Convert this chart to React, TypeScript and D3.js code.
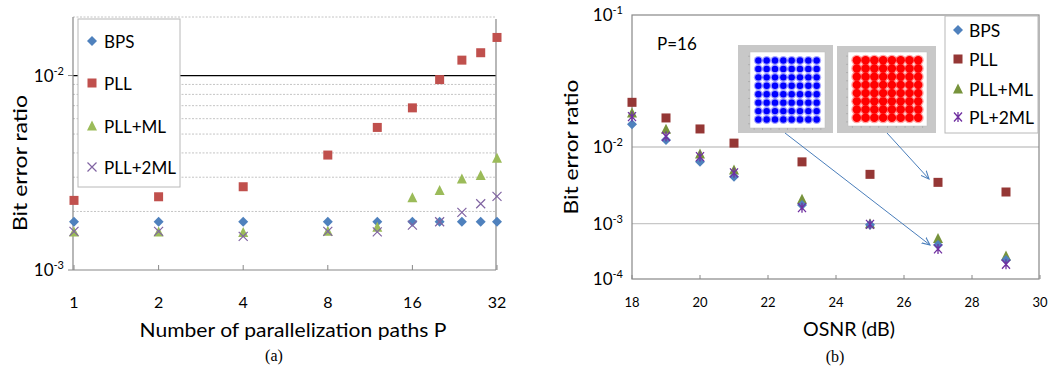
import React from "react";
import * as d3 from "d3";

// ---- data: panel (a)
const pathsA = [1, 2, 4, 8, 12, 16, 20, 24, 28, 32];
const bpsA = [1.77e-3, 1.77e-3, 1.77e-3, 1.77e-3, 1.77e-3, 1.77e-3, 1.77e-3, 1.77e-3, 1.77e-3, 1.77e-3];
const pllA = [2.28e-3, 2.38e-3, 2.68e-3, 3.9e-3, 5.41e-3, 6.82e-3, 9.53e-3, 1.2e-2, 1.31e-2, 1.57e-2];
const pllMlA = [1.57e-3, 1.57e-3, 1.56e-3, 1.58e-3, 1.66e-3, 2.35e-3, 2.56e-3, 2.94e-3, 3.06e-3, 3.76e-3];
const pll2MlA = [1.58e-3, 1.58e-3, 1.49e-3, 1.58e-3, 1.57e-3, 1.7e-3, 1.77e-3, 1.98e-3, 2.19e-3, 2.39e-3];
const xTicksA = [1, 2, 4, 8, 16, 32];
const minorGridA = [2e-3, 3e-3, 4e-3, 5e-3, 6e-3, 7e-3, 8e-3, 9e-3, 2e-2];

// ---- data: panel (b)
const osnrB = [18, 19, 20, 21, 23, 25, 27, 29];
const bpsB = [1.49e-2, 1.13e-2, 6.4e-3, 4.1e-3, 1.75e-3, 9.6e-4, 4.1e-4, 2.2e-4];
const pllB = [2.18e-2, 1.66e-2, 1.37e-2, 1.07e-2, 6.4e-3, 4.4e-3, 3.46e-3, 2.59e-3];
const pllMlB = [1.81e-2, 1.36e-2, 8.1e-3, 5.0e-3, 2.09e-3, 1.0e-3, 5.4e-4, 2.6e-4];
const pl2MlB = [1.7e-2, 1.2e-2, 7.5e-3, 4.6e-3, 1.62e-3, 9.7e-4, 3.5e-4, 1.85e-4];
const xTicksB = [18, 20, 22, 24, 26, 28, 30];
const decadesB = [1e-4, 1e-3, 1e-2, 1e-1];
const qamLevels = [-7, -5, -3, -1, 1, 3, 5, 7];

const FONT = "Lato, 'Open Sans', sans-serif";

type Kind = "diamond" | "square" | "triangle" | "x" | "star";

function Marker({ kind, x, y, color }: { kind: Kind; x: number; y: number; color: string }) {
  if (kind === "diamond")
    return <path d="M0,-5L5,0L0,5L-5,0Z" transform={`translate(${x},${y})`} fill={color} />;
  if (kind === "square")
    return <rect x={x - 4.5} y={y - 4.5} width={9} height={9} fill={color} />;
  if (kind === "triangle")
    return <path d="M0,-5.5L5,4.5L-5,4.5Z" transform={`translate(${x},${y})`} fill={color} />;
  if (kind === "x")
    return <path d="M-4.5,-4.5L4.5,4.5M-4.5,4.5L4.5,-4.5" transform={`translate(${x},${y})`} stroke={color} strokeWidth={1.2} fill="none" />;
  return <path d="M-4,-4.5L4,4.5M-4,4.5L4,-4.5M0,-5L0,5" transform={`translate(${x},${y})`} stroke={color} strokeWidth={1.3} fill="none" />;
}

function Pow({ x, y, exp, size, supSize }: { x: number; y: number; exp: string; size: number; supSize: number }) {
  return (
    <text x={x} y={y} textAnchor="end" fontSize={size} fontFamily={FONT} fill="#000">
      10<tspan fontSize={supSize} dy={-size * 0.4}>{exp}</tspan>
    </text>
  );
}

function PanelA() {
  const x = d3.scaleLog().base(2).domain([1, 32]).range([74, 497]);
  const y = d3.scaleLog().domain([1e-3, 2e-2]).range([270, 17]);
  const L = 73, R = 496, B = 270;
  const series: { name: string; vals: number[]; kind: Kind; color: string }[] = [
    { name: "BPS", vals: bpsA, kind: "diamond", color: "#4F81BD" },
    { name: "PLL", vals: pllA, kind: "square", color: "#C0504D" },
    { name: "PLL+ML", vals: pllMlA, kind: "triangle", color: "#9BBB59" },
    { name: "PLL+2ML", vals: pll2MlA, kind: "x", color: "#8064A2" },
  ];
  const legY = [41, 83, 126, 167];
  return (
    <g>
      {minorGridA.map((v) => (
        <line key={v} x1={L} x2={R} y1={y(v)} y2={y(v)} stroke="#c4c4c4" strokeDasharray="2,1.5" />
      ))}
      <line x1={L} x2={R} y1={y(1e-2)} y2={y(1e-2)} stroke="#000" strokeWidth={1.3} />
      <line x1={R} x2={R} y1={19} y2={B} stroke="#888" strokeWidth={1.2} />
      <line x1={L} x2={L} y1={y(2e-2)} y2={B} stroke="#888" strokeWidth={1.2} />
      <line x1={L} x2={R} y1={B} y2={B} stroke="#888" strokeWidth={1.2} />
      <line x1={L - 5} x2={L} y1={y(1e-2)} y2={y(1e-2)} stroke="#888" />
      <line x1={L - 5} x2={L} y1={B} y2={B} stroke="#888" />
      {xTicksA.map((t) => (
        <g key={t}>
          <line x1={x(t)} x2={x(t)} y1={B - 5} y2={B} stroke="#888" />
          <text x={x(t)} y={308} textAnchor="middle" fontSize={16} fontFamily={FONT}>{t}</text>
        </g>
      ))}
      <Pow x={64} y={82} exp="-2" size={17} supSize={11} />
      <Pow x={64} y={276} exp="-3" size={17} supSize={11} />
      {series.map((s) =>
        s.vals.map((v, i) => (
          <Marker key={s.name + i} kind={s.kind} x={x(pathsA[i])} y={y(v)} color={s.color} />
        ))
      )}
      <rect x={78} y={19} width={102} height={168} fill="#fff" stroke="#b8b8b8" />
      {series.map((s, i) => (
        <g key={s.name}>
          <Marker kind={s.kind} x={92} y={legY[i]} color={s.color} />
          <text x={104} y={legY[i]} dominantBaseline="central" fontSize={17} fontFamily={FONT}>{s.name}</text>
        </g>
      ))}
      <text transform="translate(27,163) rotate(-90)" textAnchor="middle" fontSize={20} fontFamily={FONT}
        textLength={136} lengthAdjust="spacingAndGlyphs">Bit error ratio</text>
      <text x={293} y={337} textAnchor="middle" fontSize={20} fontFamily={FONT}
        textLength={307} lengthAdjust="spacingAndGlyphs">Number of parallelization paths  P</text>
      <text x={274} y={361} textAnchor="middle" fontSize={16} fontFamily="'Liberation Serif', serif">(a)</text>
    </g>
  );
}

function Constellation({ x0, y0, w, h, ix0, iy0, iw, ih, color, r }: {
  x0: number; y0: number; w: number; h: number; ix0: number; iy0: number; iw: number; ih: number; color: string; r: number;
}) {
  const sx = d3.scaleLinear().domain([-9, 9]).range([ix0, ix0 + iw]);
  const sy = d3.scaleLinear().domain([-9, 9]).range([iy0 + ih, iy0]);
  const ticks = [-8, -6, -4, -2, 0, 2, 4, 6, 8];
  return (
    <g>
      <rect x={x0} y={y0} width={w} height={h} fill="#c8c8c8" />
      <rect x={ix0} y={iy0} width={iw} height={ih} fill="#fff" stroke="#bbb" strokeWidth={0.5} />
      {ticks.map((t) => (
        <g key={t}>
          <line x1={sx(t)} x2={sx(t)} y1={iy0 + ih} y2={iy0 + ih + 2} stroke="#999" strokeWidth={0.5} />
          <line x1={ix0 - 2} x2={ix0} y1={sy(t)} y2={sy(t)} stroke="#999" strokeWidth={0.5} />
        </g>
      ))}
      {qamLevels.map((a) =>
        qamLevels.map((b) => (
          <g key={`${a}_${b}`}>
            <circle cx={sx(a)} cy={sy(b)} r={r + 1.3} fill={color} opacity={0.35} />
            <circle cx={sx(a)} cy={sy(b)} r={r} fill={color} />
          </g>
        ))
      )}
    </g>
  );
}

function PanelB() {
  const x = d3.scaleLinear().domain([18, 30]).range([632, 1040]);
  const y = d3.scaleLog().domain(decadesB).range([279, 223.7, 147, 15]);
  const L = 632, R = 1039, T = 15, B = 279;
  const series: { name: string; vals: number[]; kind: Kind; color: string }[] = [
    { name: "BPS", vals: bpsB, kind: "diamond", color: "#4F81BD" },
    { name: "PLL", vals: pllB, kind: "square", color: "#953735" },
    { name: "PLL+ML", vals: pllMlB, kind: "triangle", color: "#77933C" },
    { name: "PL+2ML", vals: pl2MlB, kind: "star", color: "#7030A0" },
  ];
  const drawOrder = [1, 2, 0, 3];
  const legY = [30, 59, 89, 117];
  const exps = ["-4", "-3", "-2", "-1"];
  return (
    <g>
      <defs>
        <marker id="arr" viewBox="0 0 10 10" refX={9} refY={5} markerWidth={9} markerHeight={9} orient="auto">
          <path d="M0,1L9,5L0,9" fill="none" stroke="#4A7EBB" strokeWidth={1.2} />
        </marker>
      </defs>
      {[1e-3, 1e-2].map((v) => (
        <line key={v} x1={L} x2={R} y1={y(v)} y2={y(v)} stroke="#c8c8c8" strokeWidth={1.3} />
      ))}
      <rect x={L} y={T} width={R - L} height={B - T} fill="none" stroke="#888" strokeWidth={1.2} />
      {xTicksB.map((t) => (
        <g key={t}>
          <line x1={x(t)} x2={x(t)} y1={B - 4} y2={B} stroke="#888" />
          <text x={x(t)} y={307} textAnchor="middle" fontSize={13} fontFamily={FONT}>{t}</text>
        </g>
      ))}
      {decadesB.map((d, i) => (
        <Pow key={d} x={623} y={y(d) + 6} exp={exps[i]} size={17} supSize={11} />
      ))}
      <text x={657} y={50} fontSize={17} fontFamily={FONT}>P=16</text>
      <Constellation x0={738} y0={45} w={95} h={88} ix0={750} iy0={52} iw={75} ih={76} color="#0000ff" r={3.2} />
      <Constellation x0={837} y0={46} w={99} h={87} ix0={848} iy0={52} iw={79} ih={74} color="#ff0000" r={4.2} />
      <line x1={785} y1={133} x2={930} y2={245} stroke="#4A7EBB" strokeWidth={1} markerEnd="url(#arr)" />
      <line x1={887} y1={133} x2={929} y2={179} stroke="#4A7EBB" strokeWidth={1} markerEnd="url(#arr)" />
      {drawOrder.map((si) =>
        series[si].vals.map((v, i) => (
          <Marker key={series[si].name + i} kind={series[si].kind} x={x(osnrB[i])} y={y(v)} color={series[si].color} />
        ))
      )}
      <rect x={945} y={16} width={93} height={117} fill="#fff" stroke="#b8b8b8" />
      {series.map((s, i) => (
        <g key={s.name}>
          <Marker kind={s.kind} x={958} y={legY[i]} color={s.color} />
          <text x={969} y={legY[i]} dominantBaseline="central" fontSize={17.5} fontFamily={FONT}>{s.name}</text>
        </g>
      ))}
      <text transform="translate(578,147) rotate(-90)" textAnchor="middle" fontSize={20} fontFamily={FONT}
        textLength={135} lengthAdjust="spacingAndGlyphs">Bit error ratio</text>
      <text x={849} y={336} textAnchor="middle" fontSize={19} fontFamily={FONT}
        textLength={92} lengthAdjust="spacingAndGlyphs">OSNR (dB)</text>
      <text x={835} y={362} textAnchor="middle" fontSize={16} fontFamily="'Liberation Serif', serif">(b)</text>
    </g>
  );
}

export default function App() {
  return (
    <svg width={1048} height={368} style={{ position: "absolute", left: 0, top: 0, background: "#fff" }}>
      <PanelA />
      <PanelB />
    </svg>
  );
}
